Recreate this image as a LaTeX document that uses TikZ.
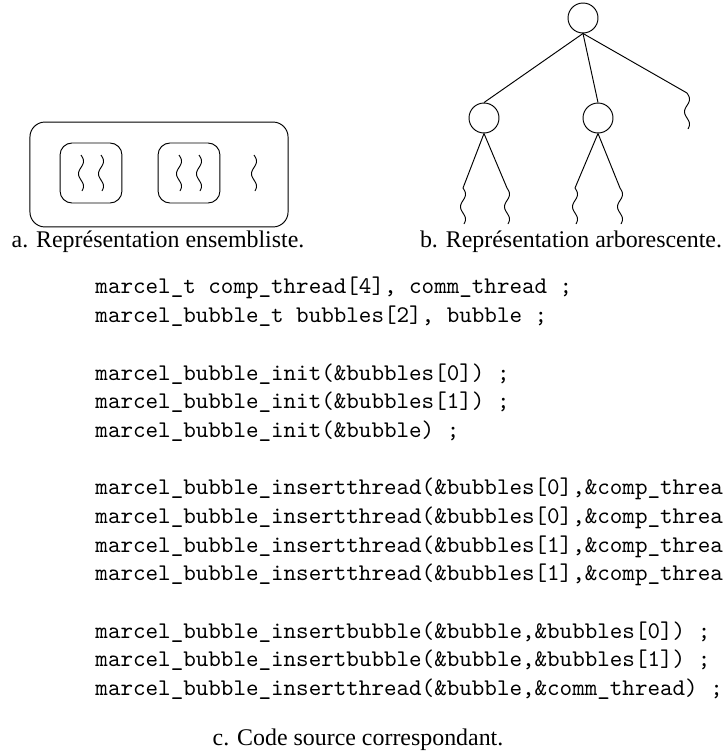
\documentclass[tikz,border=0pt]{standalone}
\usepackage{fontspec}
\setmainfont{Liberation Serif}

\begin{document}
\begin{tikzpicture}[
    x=0.4184pt, y=-0.4184pt,
    set/.style={rectangle, draw, rounded corners=6.3pt, minimum width=108pt, minimum height=43.9pt},
    subset/.style={rectangle, draw, rounded corners=5pt, minimum width=25.9pt, minimum height=25.1pt},
    bubble/.style={circle, draw, minimum size=12.55pt, inner sep=0pt},
    caption/.style={anchor=base, font=\fontsize{10}{12}\selectfont},
    code/.style={anchor=base west, align=left, inner sep=0pt, font=\ttfamily},
    thread/.pic={\draw plot[domain=0:36, samples=40, smooth] ({2.5*sin(\x*14.4)}, \x);
                 \coordinate (-top) at (0,0);}
]

\useasboundingbox (0,0) rectangle (723,755);
\clip (0,0) rectangle (723,755);

% Set view
\node[set] (outer) at (159,174.5) {};
\node[subset] (inner1) at (91,173) {};
\node[subset] (inner2) at (189,173) {};
\pic (t1) at (81,155) {thread};
\pic (t2) at (101,155) {thread};
\pic (t3) at (179,155) {thread};
\pic (t4) at (199,155) {thread};
\pic (t5) at (254,155) {thread};

% Tree view
\node[bubble] (root) at (583,18) {};
\node[bubble] (left) at (484,118) {};
\node[bubble] (mid) at (598,118) {};
\pic (t6) at (687,93) {thread};
\pic (l1) at (463,188) {thread};
\pic (l2) at (507,188) {thread};
\pic (l3) at (575,188) {thread};
\pic (l4) at (620,188) {thread};

\draw (root.south) -- (left.north);
\draw (root.south) -- (mid.north);
\draw (root.south) -- (t6-top);
\draw (left.south) -- (l1-top);
\draw (left.south) -- (l2-top);
\draw (mid.south) -- (l3-top);
\draw (mid.south) -- (l4-top);

% Captions
\node[caption] (capa) at (158,247) {a. Représentation ensembliste.};
\node[caption] (capb) at (571,247) {b. Représentation arborescente.};

% Source code (base = last line)
\node[code] (src) at (95,695.5) {marcel\_t comp\_thread[4], comm\_thread ;\\
marcel\_bubble\_t bubbles[2], bubble ;\\[12pt]
marcel\_bubble\_init(\&bubbles[0]) ;\\
marcel\_bubble\_init(\&bubbles[1]) ;\\
marcel\_bubble\_init(\&bubble) ;\\[12pt]
marcel\_bubble\_insertthread(\&bubbles[0],\&comp\_thread[0]) ;\\
marcel\_bubble\_insertthread(\&bubbles[0],\&comp\_thread[1]) ;\\
marcel\_bubble\_insertthread(\&bubbles[1],\&comp\_thread[2]) ;\\
marcel\_bubble\_insertthread(\&bubbles[1],\&comp\_thread[3]) ;\\[12pt]
marcel\_bubble\_insertbubble(\&bubble,\&bubbles[0]) ;\\
marcel\_bubble\_insertbubble(\&bubble,\&bubbles[1]) ;\\
marcel\_bubble\_insertthread(\&bubble,\&comm\_thread) ;};

\node[caption] (capc) at (358,745) {c. Code source correspondant.};

\end{tikzpicture}
\end{document}
